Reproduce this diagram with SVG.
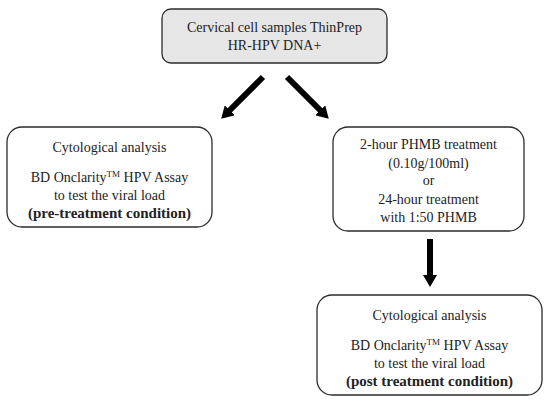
<svg xmlns="http://www.w3.org/2000/svg" width="550" height="404" viewBox="0 0 550 404">
  <style>
    .box { fill: #ffffff; stroke: #2b2b2b; stroke-width: 1.3; }
    .top { fill: #e6e6e6; }
    text { font-family: "Liberation Serif", "Times New Roman", serif; font-size: 14px; fill: #222; text-anchor: middle; }
    .b { font-weight: bold; font-size: 15px; }
    .tm { font-size: 9px; }
    .arr { stroke: #000; stroke-width: 6; fill: none; }
  </style>
  <defs>
    <marker id="head" viewBox="0 0 12 14" refX="1" refY="7" markerWidth="12" markerHeight="14" markerUnits="userSpaceOnUse" orient="auto">
      <path d="M0,0 L12,7 L0,14 z" fill="#000"/>
    </marker>
  </defs>
  <rect width="550" height="404" fill="#ffffff"/>

  <g id="connectors">
    <line class="arr" x1="263" y1="77" x2="229" y2="111" marker-end="url(#head)"/>
    <line class="arr" x1="287" y1="77" x2="321" y2="111" marker-end="url(#head)"/>
    <line class="arr" x1="430" y1="239" x2="430" y2="276" marker-end="url(#head)"/>
  </g>

  <g id="samples">
    <rect class="box top" x="162" y="9" width="225" height="54" rx="9"/>
    <text x="274.5" y="32">Cervical cell samples ThinPrep</text>
    <text x="274.5" y="50">HR-HPV DNA+</text>
  </g>

  <g id="pre-treatment">
    <rect class="box" x="7" y="127" width="205" height="100" rx="15"/>
    <text x="109.5" y="152">Cytological analysis</text>
    <text x="109.5" y="182">BD Onclarity<tspan class="tm" dy="-5">TM</tspan><tspan dy="5"> HPV Assay</tspan></text>
    <text x="109.5" y="200">to test the viral load</text>
    <text class="b" x="109.5" y="218">(pre-treatment condition)</text>
  </g>

  <g id="treatment">
    <rect class="box" x="333" y="127" width="191" height="104" rx="15"/>
    <text x="428.5" y="149">2-hour PHMB treatment</text>
    <text x="428.5" y="168">(0.10g/100ml)</text>
    <text x="428.5" y="185">or</text>
    <text x="428.5" y="204">24-hour treatment</text>
    <text x="428.5" y="222">with 1:50 PHMB</text>
  </g>

  <g id="post-treatment">
    <rect class="box" x="317" y="295" width="225" height="100" rx="15"/>
    <text x="429.5" y="320">Cytological analysis</text>
    <text x="429.5" y="350">BD Onclarity<tspan class="tm" dy="-5">TM</tspan><tspan dy="5"> HPV Assay</tspan></text>
    <text x="429.5" y="368">to test the viral load</text>
    <text class="b" x="429.5" y="386">(post treatment condition)</text>
  </g>
</svg>
